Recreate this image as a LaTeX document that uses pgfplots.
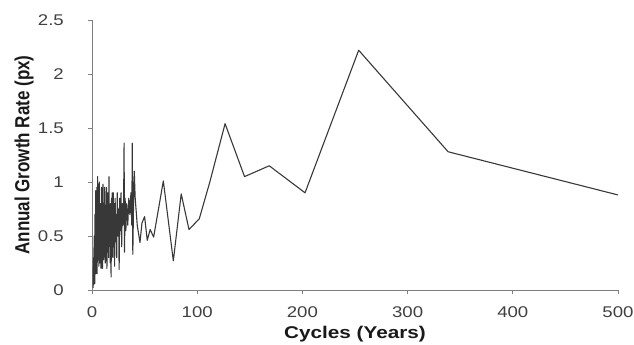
\documentclass[border=0pt]{standalone}
\usepackage{pgfplots}
\pgfplotsset{compat=1.18}
\usepackage{fontspec}
\setmainfont{Liberation Sans}
\usepackage{graphicx}
\begin{document}
\begin{tikzpicture}
\begin{axis}[
  name=ax, at={(0,0)}, anchor=south west,
  scale only axis, width=526pt, height=270pt,
  xmin=0, xmax=500, ymin=0, ymax=2.5,
  axis lines*=left,
  axis line style={black!50, line width=1pt},
  xtick={0,100,200,300,400,500},
  ytick={0,0.5,1,1.5,2,2.5},
  tick align=outside, major tick length=4pt,
  tick style={black!50, line width=0.8pt},
  /pgf/number format/assume math mode=true,
  tick label style={font=\fontsize{15.5}{18}\selectfont, text=black!75},
  xticklabel={\scalebox{1.2}[1]{\pgfmathprintnumber{\tick}}},
  yticklabel={\scalebox{1.2}[1]{\pgfmathprintnumber{\tick}}},
  xticklabel style={anchor=north, inner sep=0pt, yshift=-12pt},
  yticklabel style={anchor=east, inner sep=0pt, xshift=-24pt},
  xlabel={\scalebox{1.22}[1]{\bfseries Cycles (Years)}},
  xlabel style={font=\fontsize{17}{20}\selectfont, text=black!90, at={(axis description cs:0.5,-0.1778)}, anchor=base},
  ylabel={\scalebox{1}[1.2]{\bfseries Annual Growth Rate (px)}},
  ylabel style={font=\fontsize{17}{20}\selectfont, text=black!90, at={(axis description cs:-0.1293,0.5)}, anchor=center},
]
\addplot[color=black!78, line width=1.1pt, line join=round, mark=none] coordinates {
(1.0,0.02)(1.2,0.2)(1.4,0.3)(1.6,0.05)(1.8,0.08)(2.0,0.5)(2.2,0.45)(2.4,0.1)
(2.6,0.06)(2.8,0.7)(3.0,0.6)(3.2,0.2)(3.4,0.15)(3.6,0.92)(3.8,0.85)(4.0,0.3)
(4.2,0.25)(4.4,0.8)(4.6,0.95)(4.8,0.15)(5.0,0.3)(5.2,0.9)(5.4,1.05)(5.6,0.35)
(5.8,0.4)(6.0,0.75)(6.2,0.9)(6.4,0.3)(6.6,0.22)(6.8,0.95)(7.0,1.0)(7.2,0.45)
(7.4,0.35)(7.6,0.7)(7.8,0.8)(8.0,0.25)(8.2,0.5)(8.4,0.65)(8.6,0.2)(8.8,0.6)
(9.0,0.95)(9.2,0.4)(9.4,0.3)(9.6,0.85)(9.8,0.75)(10.0,0.2)(10.2,0.4)(10.4,0.98)
(10.6,0.9)(10.8,0.5)(11.0,0.28)(11.2,0.8)(11.4,0.7)(11.6,0.35)(11.8,0.45)
(12.0,0.95)(12.2,0.85)(12.4,0.3)(12.6,0.25)(12.8,0.65)(13.0,0.75)(13.2,0.4)
(13.4,0.5)(13.6,0.8)(13.8,0.95)(14.0,0.3)(14.2,0.2)(14.4,0.6)(14.6,0.7)
(14.8,0.35)(15.0,0.4)(15.2,0.9)(15.4,0.8)(15.6,0.45)(15.8,0.3)(16.0,0.85)
(16.2,1.05)(16.4,0.5)(16.6,0.45)(16.8,0.7)(17.0,0.75)(17.2,0.3)(17.4,0.25)
(17.6,0.8)(17.8,0.6)(18.0,0.2)(18.2,0.12)(18.4,0.7)(18.6,0.85)(18.8,0.4)
(19.0,0.5)(19.2,0.9)(19.4,0.7)(19.6,0.35)(19.8,0.3)(20.0,0.75)(20.2,0.9)
(20.6,0.4)(21.0,0.8)(21.5,0.22)(22.0,0.85)(22.5,0.45)(23.0,0.7)(23.5,0.3)
(24.0,0.9)(24.6,0.5)(25.2,0.75)(25.8,0.19)(26.4,0.85)(27.0,0.55)(27.6,0.9)
(28.2,0.4)(28.8,0.8)(29.4,0.6)(30.0,0.75)(30.5,1.36)(30.9,0.35)(31.5,0.85)
(32.2,0.55)(33.0,0.8)(34.0,0.6)(35.0,0.85)(36.0,0.7)(37.0,0.9)(37.8,0.6)
(38.3,1.36)(38.8,0.33)(39.5,0.8)(40.2,1.1)(41.0,0.86)(43.0,0.6)(45.6,0.44)
(47.5,0.62)(50.0,0.68)(52.5,0.46)(55.3,0.56)(58.6,0.49)(67.8,1.01)(77.3,0.27)
(84.8,0.89)(92.2,0.56)(102.0,0.66)(112.0,1.0)(126.5,1.54)(145.0,1.05)
(168.5,1.15)(202.5,0.9)(253.5,2.22)(338.5,1.28)(500.0,0.88)
};
\end{axis}
\pgfresetboundingbox
\path ([shift={(-92pt,-54pt)}]ax.south west) rectangle ([shift={(16pt,20pt)}]ax.north east);
\end{tikzpicture}
\end{document}
